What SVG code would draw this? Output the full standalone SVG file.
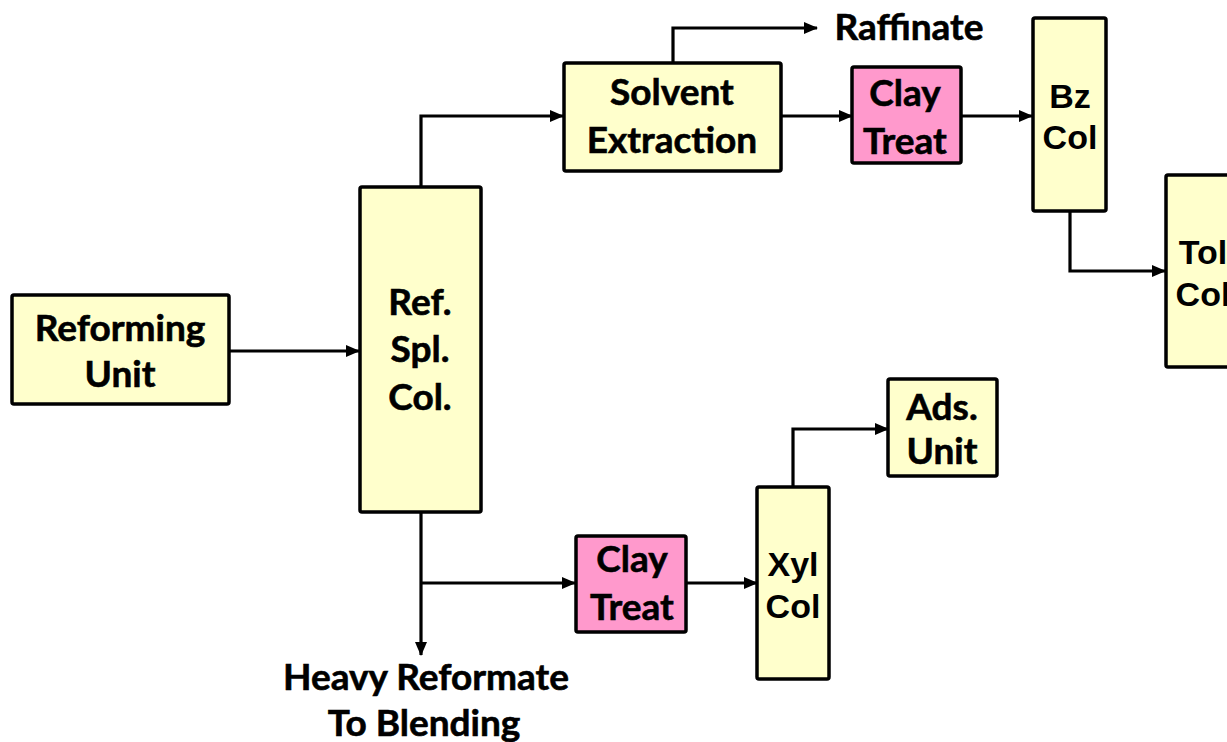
<svg xmlns="http://www.w3.org/2000/svg" width="1227" height="742" viewBox="0 0 1227 742">
  <style>
    .unit { fill: #FFFFCC; stroke: #000; stroke-width: 3.5; }
    .clay { fill: #FF99CC; stroke: #000; stroke-width: 3.5; }
    .lbl { font-family: Lato, "Open Sans", sans-serif; font-weight: bold; font-size: 37px; fill: #000; stroke: #000; stroke-width: 0.6; text-anchor: middle; }
    .col { font-family: "Liberation Sans", Arial, sans-serif; font-weight: bold; font-size: 34px; fill: #000; text-anchor: middle; }
    .flow { fill: none; stroke: #000; stroke-width: 3.2; }
  </style>
  <defs>
    <marker id="arrow" markerUnits="userSpaceOnUse" markerWidth="15" markerHeight="13" refX="13" refY="6" orient="auto">
      <path d="M0,0 L14,6 L0,12 z" fill="#000"/>
    </marker>
  </defs>
  <rect width="1227" height="742" fill="#fff"/>

  <g id="connectors">
    <path class="flow" d="M229,351 H359" marker-end="url(#arrow)"/>
    <path class="flow" d="M421,187 V116 H563" marker-end="url(#arrow)"/>
    <path class="flow" d="M673,63 V28 H817" marker-end="url(#arrow)"/>
    <path class="flow" d="M781,116 H852" marker-end="url(#arrow)"/>
    <path class="flow" d="M961,116 H1032" marker-end="url(#arrow)"/>
    <path class="flow" d="M1070,211 V271 H1165" marker-end="url(#arrow)"/>
    <path class="flow" d="M421,513 V655" marker-end="url(#arrow)"/>
    <path class="flow" d="M421,583 H575" marker-end="url(#arrow)"/>
    <path class="flow" d="M686,583 H757" marker-end="url(#arrow)"/>
    <path class="flow" d="M793,487 V429 H888" marker-end="url(#arrow)"/>
  </g>

  <g id="reforming-unit">
    <rect class="unit" x="12" y="295" width="217" height="109" rx="2"/>
    <text class="lbl" x="120" y="341">Reforming</text>
    <text class="lbl" x="120" y="387">Unit</text>
  </g>

  <g id="ref-spl-col">
    <rect class="unit" x="360" y="187" width="121" height="325" rx="2"/>
    <text class="lbl" x="420" y="315">Ref.</text>
    <text class="lbl" x="420" y="362">Spl.</text>
    <text class="lbl" x="420" y="410">Col.</text>
  </g>

  <g id="solvent-extraction">
    <rect class="unit" x="564" y="63" width="217" height="108" rx="2"/>
    <text class="lbl" x="672" y="105">Solvent</text>
    <text class="lbl" x="672" y="153">Extraction</text>
  </g>

  <g id="raffinate">
    <text class="lbl" x="909" y="40">Raffinate</text>
  </g>

  <g id="clay-treat-1">
    <rect class="clay" x="852" y="67" width="109" height="96" rx="2"/>
    <text class="lbl" x="905" y="106">Clay</text>
    <text class="lbl" x="905" y="154">Treat</text>
  </g>

  <g id="bz-col">
    <rect class="unit" x="1033" y="18" width="73" height="193" rx="2"/>
    <text class="col" x="1070" y="108">Bz</text>
    <text class="col" x="1070" y="149">Col</text>
  </g>

  <g id="tol-col">
    <rect class="unit" x="1166" y="175" width="74" height="192" rx="2"/>
    <text class="col" x="1203" y="264">Tol</text>
    <text class="col" x="1203" y="306">Col</text>
  </g>

  <g id="clay-treat-2">
    <rect class="clay" x="576" y="536" width="110" height="96" rx="2"/>
    <text class="lbl" x="632" y="572">Clay</text>
    <text class="lbl" x="632" y="620">Treat</text>
  </g>

  <g id="xyl-col">
    <rect class="unit" x="757" y="487" width="72" height="192" rx="2"/>
    <text class="col" x="793" y="576">Xyl</text>
    <text class="col" x="793" y="618">Col</text>
  </g>

  <g id="ads-unit">
    <rect class="unit" x="888" y="379" width="109" height="97" rx="2"/>
    <text class="lbl" x="942" y="420">Ads.</text>
    <text class="lbl" x="942" y="464">Unit</text>
  </g>

  <g id="heavy-reformate">
    <text class="lbl" x="426" y="690">Heavy Reformate</text>
    <text class="lbl" x="424" y="736">To Blending</text>
  </g>
</svg>
